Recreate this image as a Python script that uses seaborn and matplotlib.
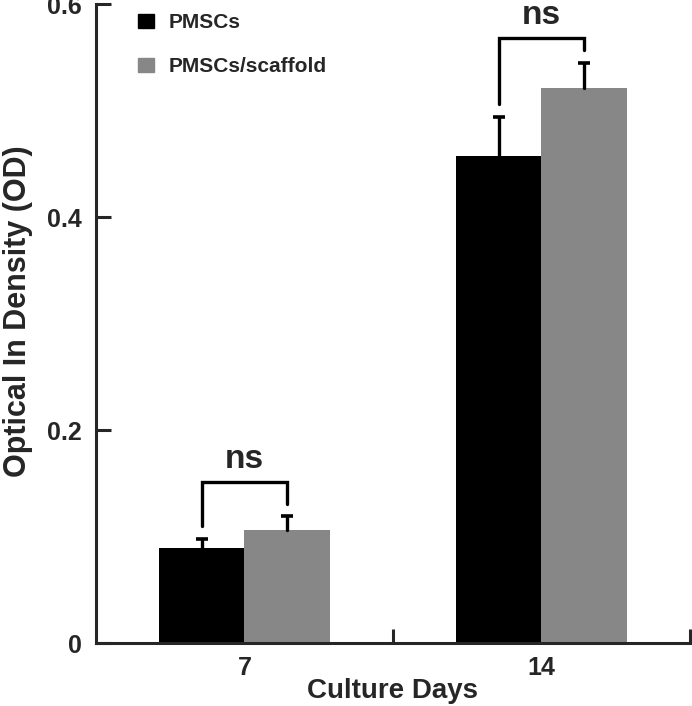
import pandas as pd
import matplotlib
matplotlib.use('Agg')
import matplotlib.pyplot as plt
import matplotlib.patches as mpatches
import seaborn as sns

# values
days = ['7', '14']
groups = ['PMSCs', 'PMSCs/scaffold']
pmsc_mean = [0.089, 0.457]
pmsc_err = [0.009, 0.037]
scaffold_mean = [0.106, 0.521]
scaffold_err = [0.013, 0.024]
sig_labels = ['ns', 'ns']
sig_heights = [0.151, 0.568]
yticks = [0, 0.2, 0.4, 0.6]
ytick_labels = ['0', '0.2', '0.4', '0.6']
colors = ['#000000', '#878787']

df = pd.DataFrame({
    'day': days * 2,
    'group': [groups[0]] * 2 + [groups[1]] * 2,
    'od': pmsc_mean + scaffold_mean,
})
errs = [pmsc_err, scaffold_err]

sns.set_style('ticks')
plt.rcParams['font.family'] = ['Liberation Sans', 'DejaVu Sans']
plt.rcParams['font.weight'] = 'bold'

fig = plt.figure(figsize=(6.92, 7.06), dpi=100)
ax = fig.add_axes([0.1387, 0.0892, 0.8583, 0.9051])

sns.barplot(data=df, x='day', y='od', hue='group', order=days, hue_order=groups,
            palette=colors, saturation=1, errorbar=None, width=0.573,
            linewidth=0, ax=ax, legend=False)

# upper error bars only (stem + cap)
centers = []
for cont, err in zip(ax.containers, errs):
    xs = []
    for bar, e in zip(cont, err):
        x = bar.get_x() + bar.get_width() / 2
        h = bar.get_height()
        xs.append((x, h + e))
        ax.plot([x, x], [h, h + e], color='black', lw=2.4)
        ax.plot(x, h + e, marker='_', ms=8.5, mew=2.6, color='black')
    centers.append(xs)

# significance brackets
for i, (lab, top) in enumerate(zip(sig_labels, sig_heights)):
    (x0, y0), (x1, y1) = centers[0][i], centers[1][i]
    ax.plot([x0, x0, x1, x1], [y0 + 0.012, top, top, y1 + 0.012],
            color='black', lw=2.4, solid_joinstyle='miter')
    ax.text((x0 + x1) / 2, top + 0.007, lab, ha='center', va='bottom',
            fontsize=24, fontweight='bold')

ax.set_ylim(0, 0.6)
ax.set_xlim(-0.5, 1.5)
ax.set_yticks(yticks)
ax.set_yticklabels(ytick_labels)
ax.set_xticks([0.5, 1.5], minor=True)
ax.tick_params(axis='y', direction='in', length=11, width=2.2, pad=10, labelsize=18)
ax.tick_params(axis='x', which='major', length=0, pad=9, labelsize=18)
ax.tick_params(axis='x', which='minor', direction='in', length=10, width=2.2)
for lab in ax.get_xticklabels() + ax.get_yticklabels():
    lab.set_fontweight('bold')

sns.despine(ax=ax)
ax.spines['left'].set_linewidth(2.2)
ax.spines['bottom'].set_linewidth(2.2)

ax.set_xlabel('Culture Days', fontsize=20, fontweight='bold', labelpad=-1)
ax.set_ylabel('Optical In Density (OD)', fontsize=22, fontweight='bold')
ax.yaxis.set_label_coords(-0.106, 0.52)

handles = [mpatches.Patch(color=c, label=g) for c, g in zip(colors, groups)]
ax.legend(handles=handles, loc='upper left', bbox_to_anchor=(0.047, 1.008),
          frameon=False, handlelength=0.75, handleheight=0.7,
          handletextpad=0.7, labelspacing=1.2, borderpad=0.2,
          prop={'weight': 'bold', 'size': 15})

plt.savefig('out.png', dpi=100)
